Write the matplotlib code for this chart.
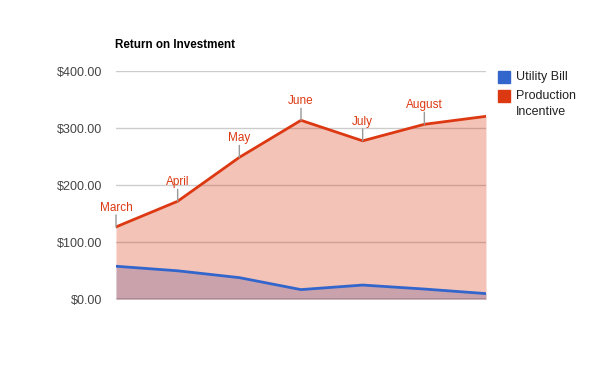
import matplotlib
matplotlib.use("Agg")
import matplotlib.pyplot as plt
from matplotlib.patches import Rectangle

plt.rcParams["font.family"] = ["Liberation Sans", "DejaVu Sans"]

# Data
months = ["March", "April", "May", "June", "July", "August", "September"]
utility_bill = [58, 50, 38, 17, 25, 18, 10]
production_incentive = [127, 172, 249, 314, 278, 307, 321]
annotated = ["March", "April", "May", "June", "July", "August"]
y_ticks = [0, 100, 200, 300, 400]

RED = "#dc3912"
BLUE = "#3366cc"

fig = plt.figure(figsize=(6, 3.71), dpi=100)
ax = fig.add_axes([116 / 600, 1 - 299.3 / 371, 370 / 600, 228 / 371])

x = list(range(len(months)))

# Gridlines first, areas on top (like the original)
for t in y_ticks[1:]:
    ax.axhline(t, color="#cccccc", lw=1, zorder=0)

ax.fill_between(x, 0, utility_bill, color=BLUE, alpha=0.3, lw=0, zorder=1)
ax.fill_between(x, 0, production_incentive, color=RED, alpha=0.3, lw=0, zorder=2)
ax.plot(x, utility_bill, color=BLUE, lw=2, zorder=3)
ax.plot(x, production_incentive, color=RED, lw=2, zorder=3)
ax.axhline(0, color="#333333", lw=1, zorder=4)

# Month annotations on the production incentive line
for i, name in enumerate(annotated):
    ax.annotate("", xy=(x[i], production_incentive[i]), xytext=(0, 12),
                textcoords="offset pixels",
                arrowprops=dict(arrowstyle="-", color="#999999", lw=1,
                                shrinkA=0, shrinkB=0), zorder=5)
    ax.annotate(name, xy=(x[i], production_incentive[i]), xytext=(0, 13),
                textcoords="offset pixels", ha="center", va="bottom",
                fontsize=8.5, color=RED, zorder=5)

ax.set_xlim(0, len(months) - 1)
ax.set_ylim(0, 400)
ax.set_yticks(y_ticks)
ax.set_yticklabels([f"${v:.2f}" for v in y_ticks], fontsize=9, color="#444444")
ax.tick_params(axis="y", length=0, pad=10)
ax.set_xticks([])
for s in ax.spines.values():
    s.set_visible(False)

fig.text(115 / 600, 1 - 45 / 371, "Return on Investment", fontsize=8.4,
         fontweight="bold", va="center", ha="left", color="#000000")

# Legend
fig.patches.append(Rectangle((498 / 600, 1 - 83 / 371), 12 / 600, 12 / 371,
                             transform=fig.transFigure, color=BLUE))
fig.patches.append(Rectangle((498 / 600, 1 - 102 / 371), 12 / 600, 12 / 371,
                             transform=fig.transFigure, color=RED))
fig.text(516 / 600, 1 - 77 / 371, "Utility Bill", fontsize=9,
         color="#222222", va="center", ha="left")
fig.text(516 / 600, 1 - 96 / 371, "Production", fontsize=9,
         color="#222222", va="center", ha="left")
fig.text(516 / 600, 1 - 112 / 371, "Incentive", fontsize=9,
         color="#222222", va="center", ha="left")

fig.savefig("out.png", dpi=100)
